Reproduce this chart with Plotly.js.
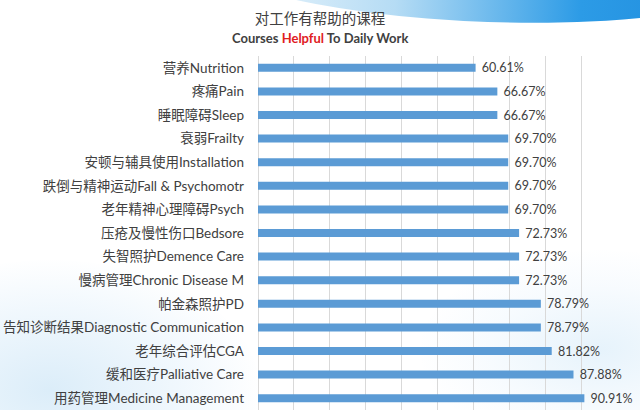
<!DOCTYPE html>
<html>
<head>
<meta charset="utf-8">
<script src="https://cdn.plot.ly/plotly-3.0.1.min.js"></script>
<style>
  html, body { margin: 0; padding: 0; width: 640px; height: 410px; overflow: hidden; background: #ffffff; }
  #bg { position: absolute; left: 0; top: 0; width: 640px; height: 410px; overflow: hidden; z-index: 0; }
  .swoosh { position: absolute; border-radius: 50%; }
  #chart { position: absolute; left: 0; top: 0; width: 640px; height: 410px; z-index: 1; }
</style>
</head>
<body>
<div id="bg">
  <div class="swoosh" style="left:180px; top:-120px; width:620px; height:142px; transform: rotate(2deg);
       background: linear-gradient(to right, rgba(220,238,250,0) 0%, rgba(150,205,240,0.7) 35%, #2c9be6 65%, #1784d8 100%);"></div>
  <div class="swoosh" style="left:-160px; top:260px; width:420px; height:260px;
       background: radial-gradient(ellipse at center, rgba(190,222,244,0.55) 0%, rgba(215,235,250,0.35) 45%, rgba(255,255,255,0) 72%);"></div>
  <div class="swoosh" style="left:420px; top:250px; width:360px; height:200px;
       background: radial-gradient(ellipse at center, rgba(200,228,247,0.45) 0%, rgba(225,240,252,0.25) 45%, rgba(255,255,255,0) 72%);"></div>
</div>
<div id="chart"></div>
<script>
const categories = [
  "营养Nutrition",
  "疼痛Pain",
  "睡眠障碍Sleep",
  "衰弱Frailty",
  "安顿与辅具使用Installation",
  "跌倒与精神运动Fall & Psychomotr",
  "老年精神心理障碍Psych",
  "压疮及慢性伤口Bedsore",
  "失智照护Demence Care",
  "慢病管理Chronic Disease M",
  "帕金森照护PD",
  "告知诊断结果Diagnostic Communication",
  "老年综合评估CGA",
  "缓和医疗Palliative Care",
  "用药管理Medicine Management"
];
const values = [0.6061, 0.6667, 0.6667, 0.6970, 0.6970, 0.6970, 0.6970, 0.7273, 0.7273, 0.7273, 0.7879, 0.7879, 0.8182, 0.8788, 0.9091];
const titleText = "对工作有帮助的课程";
const subtitleText = '<b>Courses <span style="color:#e0201f">Helpful</span> To Daily Work</b>';

const fontFam = "Lato, 'Noto Sans CJK SC', sans-serif";

const trace = {
  type: "bar",
  orientation: "h",
  y: categories,
  x: values,
  marker: { color: "#5b9bd5" },
  texttemplate: "\u00a0%{x:.2%}",
  textposition: "outside",
  constraintext: "none",
  cliponaxis: false,
  textfont: { family: fontFam, size: 12.5, color: "#404040" },
  hoverinfo: "none"
};

const layout = {
  width: 640,
  height: 410,
  margin: { l: 258, r: 23, t: 56, b: 0, pad: 0 },
  paper_bgcolor: "rgba(0,0,0,0)",
  plot_bgcolor: "rgba(0,0,0,0)",
  bargap: 0.66,
  showlegend: false,
  font: { family: fontFam, color: "#404040" },
  title: {
    text: titleText,
    font: { family: "'Noto Sans CJK SC', sans-serif", size: 14.5, color: "#404040" },
    x: 0.5, xref: "container", xanchor: "center",
    y: 1 - 19 / 410, yref: "container", yanchor: "middle"
  },
  annotations: [{
    text: subtitleText,
    xref: "paper", yref: "paper",
    x: (320 - 258) / 359, y: (410 - 38) / 354,
    xanchor: "center", yanchor: "middle",
    showarrow: false,
    font: { family: fontFam, size: 13, color: "#404040" }
  }],
  xaxis: {
    range: [0, 1],
    dtick: 0.1,
    tick0: 0,
    showgrid: true,
    gridcolor: "#d9d9d9",
    gridwidth: 1,
    zeroline: true,
    zerolinecolor: "#d9d9d9",
    zerolinewidth: 1,
    showticklabels: false,
    ticks: "",
    showline: false,
    fixedrange: true
  },
  yaxis: {
    autorange: "reversed",
    type: "category",
    showgrid: false,
    zeroline: false,
    ticks: "",
    ticklabelstandoff: 13,
    tickfont: { family: fontFam, size: 13.5, color: "#404040" },
    showline: false,
    fixedrange: true
  }
};

Plotly.newPlot("chart", [trace], layout, { displayModeBar: false, staticPlot: true });
</script>
</body>
</html>
